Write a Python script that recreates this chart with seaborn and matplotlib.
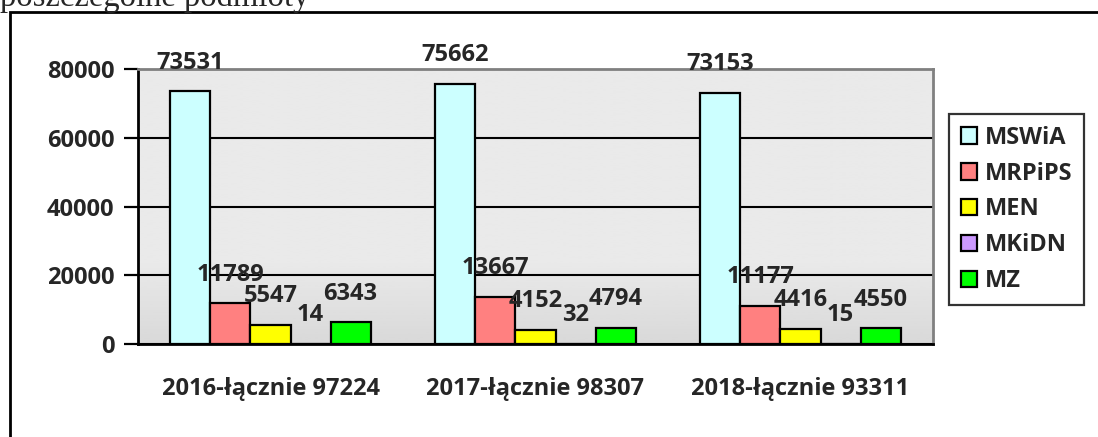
import numpy as np
import pandas as pd
import seaborn as sns
import matplotlib.pyplot as plt
from matplotlib.patches import Rectangle

# data
years = ['2016-łącznie 97224', '2017-łącznie 98307', '2018-łącznie 93311']
ministries = ['MSWiA', 'MRPiPS', 'MEN', 'MKiDN', 'MZ']
mswia = [73531, 75662, 73153]
mrpips = [11789, 13667, 11177]
men = [5547, 4152, 4416]
mkidn = [14, 32, 15]
mz = [6343, 4794, 4550]
colors = ['#ccffff', '#ff8080', '#ffff00', '#cc99ff', '#00ff00']

rows = []
for name, vals in zip(ministries, [mswia, mrpips, men, mkidn, mz]):
    for y, v in zip(years, vals):
        rows.append({'rok': y, 'podmiot': name, 'liczba': v})
df = pd.DataFrame(rows)

sns.set_style('white')
plt.rcParams['font.family'] = ['Open Sans', 'DejaVu Sans']
plt.rcParams['font.weight'] = 'bold'
FS = 17

fig = plt.figure(figsize=(10.98, 4.37), dpi=100)
ax = fig.add_axes([138/1098, 93/437, 795/1098, 275/437])

# gradient background of the plot area
grad = np.concatenate([np.full(70, 0.915), np.linspace(0.915, 0.85, 30)])
ax.imshow(grad[:, None], extent=[-0.5, 2.5, 0, 80000], aspect='auto',
          cmap='gray', vmin=0, vmax=1, zorder=0)

sns.barplot(data=df, x='rok', y='liczba', hue='podmiot', order=years,
            hue_order=ministries, palette=colors, saturation=1, width=0.755,
            edgecolor='black', linewidth=1.6, ax=ax, zorder=3)

for c in ax.containers:
    ax.bar_label(c, labels=[str(int(v)) for v in c.datavalues], padding=12,
                 fontsize=FS, fontweight='bold', zorder=5)

ax.set_xlim(-0.5, 2.5)
ax.set_ylim(0, 80000)
ax.set_yticks([0, 20000, 40000, 60000, 80000])
ax.set_yticklabels(['0', '20000', '40000', '60000', '80000'], fontsize=FS, fontweight='bold')
ax.yaxis.grid(True, color='black', lw=1.5, zorder=1)
ax.set_axisbelow(True)

ax.set_xticks([-0.5, 0.5, 1.5, 2.5])
ax.set_xticklabels([])
ax.set_xticks([0, 1, 2], minor=True)
ax.set_xticklabels(years, minor=True, fontsize=FS, fontweight='bold')
ax.tick_params(axis='x', which='minor', length=0, pad=24)
ax.tick_params(axis='x', which='major', length=10, width=1.6, color='black', direction='out')
ax.tick_params(axis='y', length=10, width=1.6, color='black', direction='out', pad=7, left=True)
ax.set_xlabel('')
ax.set_ylabel('')

for s in ['left', 'bottom']:
    ax.spines[s].set_color('black')
    ax.spines[s].set_linewidth(2)
for s in ['top', 'right']:
    ax.spines[s].set_color('#808080')
    ax.spines[s].set_linewidth(2)

handles, labels = ax.get_legend_handles_labels()
ax.get_legend().remove()
leg = fig.legend(handles, labels, loc='upper left',
                 bbox_to_anchor=(949/1098, 1 - 114/437), borderaxespad=0,
                 frameon=True, fancybox=False,
                 prop={'weight': 'bold', 'size': FS},
                 handlelength=0.7, handleheight=0.7, handletextpad=0.3,
                 labelspacing=0.5, borderpad=0.5)
leg.get_frame().set_edgecolor('black')
leg.get_frame().set_linewidth(1.6)

# outer frame of the chart object and cut-off caption above it
fig.patches.append(Rectangle((10/1098, -0.1), 1.2, 1.1 - 12/437, transform=fig.transFigure,
                             fill=False, edgecolor='black', lw=2, zorder=0))
fig.text(0, 1 - 6/437, 'poszczególne podmioty', family='Liberation Serif',
         fontweight='normal', fontsize=23.5, va='baseline', ha='left')

fig.savefig('out.png', dpi=100)
